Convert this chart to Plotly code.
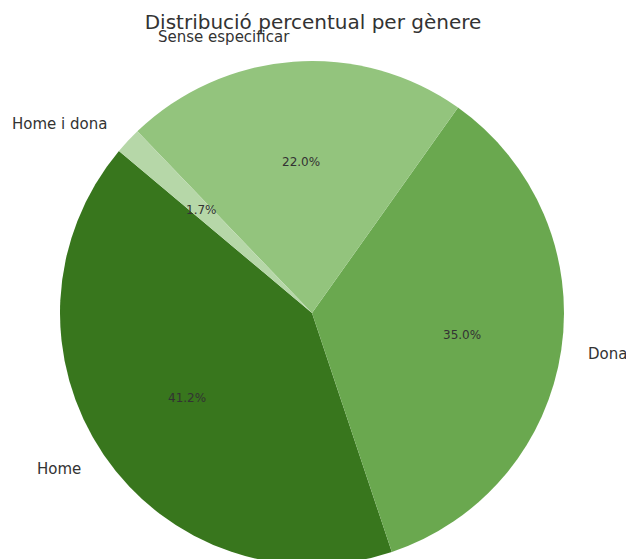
import math
import plotly.graph_objects as go

labels = ['Home', 'Dona', 'Sense especificar', 'Home i dona']
values = [41.2, 35.0, 22.0, 1.7]
colors = ['#38761d', '#6aa84f', '#93c47d', '#b6d7a8']

W, H = 626, 580
cx, cy, r = 312, 313, 252  # pixel centre / radius of the pie
start = 140  # matplotlib-style startangle, counterclockwise

total = sum(values)
# plotly's ccw pies put the END of the first slice at `rotation`
rot = 90 - start - values[0] / total * 360

fig = go.Figure()
fig.add_trace(go.Pie(
    labels=labels, values=values, sort=False,
    direction='counterclockwise', rotation=rot,
    marker=dict(colors=colors),
    textinfo='none', hoverinfo='label+percent', showlegend=False,
    domain=dict(x=[(cx - r) / W, (cx + r) / W], y=[(H - cy - r) / H, (H - cy + r) / H]),
))

# labels at 1.1 r and percentages at 0.6 r, like matplotlib autopct
cum = 0
for lab, v in zip(labels, values):
    mid = math.radians(start + (cum + v / 2) / total * 360)
    cum += v
    dx, dy = math.cos(mid), math.sin(mid)
    fig.add_annotation(
        x=(cx + 1.1 * r * dx) / W, y=1 - (cy - 1.1 * r * dy) / H,
        xref='paper', yref='paper', text=lab, showarrow=False,
        xanchor='left' if dx > 0 else 'right', yanchor='middle',
        font=dict(size=15, color='#333333'))
    fig.add_annotation(
        x=(cx + 0.6 * r * dx) / W, y=1 - (cy - 0.6 * r * dy) / H,
        xref='paper', yref='paper', text='%.1f%%' % (v / total * 100), showarrow=False,
        xanchor='center', yanchor='middle',
        font=dict(size=12, color='#333333'))

fig.update_layout(
    width=W, height=H,
    margin=dict(l=0, r=0, t=0, b=0),
    paper_bgcolor='white', plot_bgcolor='white',
    font=dict(family='DejaVu Sans', color='#333333'),
    title=dict(text='Distribució percentual per gènere', x=0.5, xanchor='center',
               y=1 - 22 / H, yanchor='middle', font=dict(size=20, color='#333333')),
)

fig.write_html("out.html", config={'displayModeBar': False},
               post_script="document.body.style.overflow='hidden';document.body.style.margin='0';")
